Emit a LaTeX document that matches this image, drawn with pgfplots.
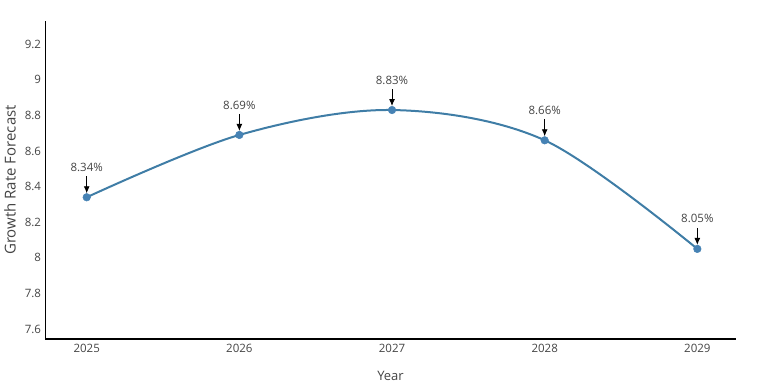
\documentclass[border=0pt]{standalone}
\usepackage{pgfplots}
\pgfplotsset{compat=1.18}
\usepackage{fontspec}
\setmainfont{Open Sans}
\usetikzlibrary{arrows.meta}
\definecolor{linec}{RGB}{63,125,166}
\definecolor{markc}{RGB}{70,130,180}
\definecolor{txt}{RGB}{68,68,68}
\tikzset{ann/.style={-{Latex[length=7pt,width=6pt]}, line width=0.9pt, black},
  annt/.style={font=\fontsize{11.5}{14}\selectfont, text=txt, anchor=center}}
\begin{document}
\begin{tikzpicture}
\begin{axis}[
  scale only axis, width=690pt, height=318pt,
  xmin=2024.73, xmax=2029.25, ymin=7.544, ymax=9.33,
  axis x line*=bottom, axis y line*=left,
  axis line style={-, line width=1.3pt, black},
  xtick={2025,2026,2027,2028,2029},
  ytick={7.6,7.8,8,8.2,8.4,8.6,8.8,9,9.2},
  major tick length=0pt,
  /pgf/number format/assume math mode=true,
  xticklabel style={/pgf/number format/1000 sep={}, yshift=-2pt},
  yticklabel style={xshift=-1pt},
  tick label style={font=\fontsize{11.5}{14}\selectfont, text=txt},
  xlabel={Year}, ylabel={Growth Rate Forecast},
  xlabel style={font=\fontsize{13}{16}\selectfont, text=txt, at={(axis description cs:0.5,-0.116)}, anchor=center},
  ylabel style={font=\fontsize{15}{18}\selectfont, text=txt, at={(axis description cs:-0.0514,0.5)}, anchor=center},
  clip=false,
]
\addplot[color=linec, line width=2pt, smooth, tension=0.55,
  mark=*, mark size=3.8pt, mark options={fill=markc, draw=markc, line width=0.5pt}]
  coordinates {(2025,8.34) (2026,8.69) (2027,8.83) (2028,8.66) (2029,8.05)};
\draw[ann] (axis cs:2025,8.34) ++(0pt,21pt) -- ++(0pt,-17pt);
\draw[ann] (axis cs:2026,8.69) ++(0pt,21pt) -- ++(0pt,-17pt);
\draw[ann] (axis cs:2027,8.83) ++(0pt,21pt) -- ++(0pt,-17pt);
\draw[ann] (axis cs:2028,8.66) ++(0pt,21pt) -- ++(0pt,-17pt);
\draw[ann] (axis cs:2029,8.05) ++(0pt,21pt) -- ++(0pt,-17pt);
\path (axis cs:2025,8.34) ++(0pt,30pt) node[annt] {8.34\%};
\path (axis cs:2026,8.69) ++(0pt,30pt) node[annt] {8.69\%};
\path (axis cs:2027,8.83) ++(0pt,30pt) node[annt] {8.83\%};
\path (axis cs:2028,8.66) ++(0pt,30pt) node[annt] {8.66\%};
\path (axis cs:2029,8.05) ++(0pt,30pt) node[annt] {8.05\%};
\end{axis}
\path (current axis.south west) ++(-45.5pt,-50pt) coordinate (bbA);
\path (current axis.north east) ++(39.5pt,21pt) coordinate (bbB);
\path (bbA) rectangle (bbB);
\end{tikzpicture}
\end{document}
